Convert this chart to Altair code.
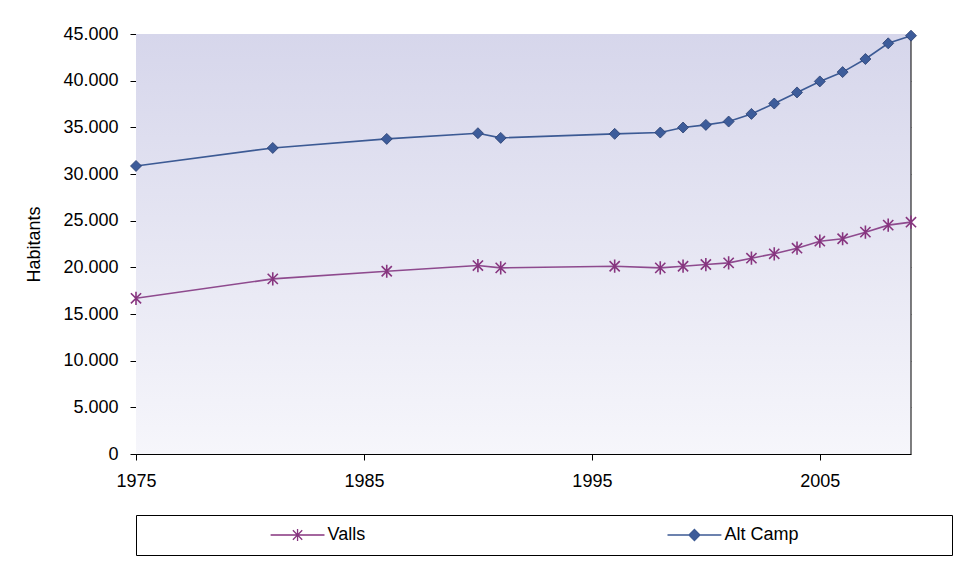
import altair as alt
import pandas as pd

# ---- data ----
years = [1975, 1981, 1986, 1990, 1991, 1996, 1998, 1999, 2000, 2001, 2002,
         2003, 2004, 2005, 2006, 2007, 2008, 2009]
alt_camp = [30860, 32790, 33760, 34370, 33870, 34300, 34440, 34980, 35260,
            35620, 36440, 37550, 38740, 39920, 40920, 42320, 44000, 44820]
valls = [16680, 18760, 19580, 20190, 19940, 20120, 19940, 20120, 20300,
         20480, 20980, 21450, 22050, 22800, 23060, 23770, 24520, 24840]
series_names = ["Valls", "Alt Camp"]
x_ticks = [1975, 1985, 1995, 2005]
y_ticks = [0, 5000, 10000, 15000, 20000, 25000, 30000, 35000, 40000, 45000]
x_domain = [1975, 2009]
y_domain = [0, 45000]

PURPLE = "#8E4A8E"
PURPLE_MK = "#87357F"
BLUE = "#3C5A94"
BLUE_MK = "#3D5C9A"
FONT = "Liberation Sans"

rows = []
for yr, v in zip(years, valls):
    rows.append({"year": yr, "value": v, "series": "Valls"})
for yr, v in zip(years, alt_camp):
    rows.append({"year": yr, "value": v, "series": "Alt Camp"})
df = pd.DataFrame(rows)

bg_df = pd.DataFrame([{"year": x_domain[0], "year2": x_domain[1],
                       "value": y_domain[0], "value2": y_domain[1]}])
edge_df = pd.DataFrame([{"year": x_domain[1], "value": y_domain[0],
                         "value2": y_domain[1]}])

xscale = alt.Scale(domain=x_domain, nice=False, zero=False)
yscale = alt.Scale(domain=y_domain, nice=False)

x_axis = alt.Axis(values=x_ticks, format="d", title=None, grid=False,
                  domainColor="#000", tickColor="#000", tickSize=6,
                  labelPadding=12, labelFontSize=18, labelFont=FONT,
                  labelColor="#000", labelFlush=False)
y_axis = alt.Axis(values=y_ticks, title="Habitants", grid=True,
                  gridColor="#8c8c8c", gridWidth=1,
                  domainColor="#000", tickColor="#000", tickSize=6,
                  labelPadding=12, labelFontSize=18, labelFont=FONT,
                  labelColor="#000",
                  labelExpr="replace(format(datum.value, ',d'), ',', '.')",
                  titleFont=FONT, titleFontSize=18, titleFontWeight="normal",
                  titleColor="#000", titlePadding=19)

X = alt.X("year:Q", scale=xscale, axis=x_axis)
Y = alt.Y("value:Q", scale=yscale, axis=y_axis)

gradient = alt.Gradient(
    gradient="linear", x1=0, y1=0, x2=0, y2=1,
    stops=[alt.GradientStop(offset=0, color="#d6d6eb"),
           alt.GradientStop(offset=1, color="#f6f6fb")])

background = alt.Chart(bg_df).mark_rect(color=gradient).encode(
    x=X, x2="year2:Q", y=Y, y2="value2:Q")

right_edge = alt.Chart(edge_df).mark_rule(color="#000", strokeWidth=1).encode(
    x=X, y=Y, y2="value2:Q")

lines = alt.Chart(df).mark_line(strokeWidth=1.6).encode(
    x=X, y=Y,
    color=alt.Color("series:N",
                    scale=alt.Scale(domain=series_names, range=[PURPLE, BLUE]),
                    legend=None),
    detail="series:N")

ASTERISK = "M-0.85,-0.85L0.85,0.85M-0.85,0.85L0.85,-0.85M0,-1.1L0,1.1"

valls_pts = alt.Chart(df).transform_filter(
    alt.datum.series == "Valls").mark_point(
    shape=ASTERISK, filled=False, size=144, stroke=PURPLE_MK,
    strokeWidth=1.6, opacity=1).encode(x=X, y=Y)

ac_pts = alt.Chart(df).transform_filter(
    alt.datum.series == "Alt Camp").mark_point(
    shape="diamond", filled=True, size=121, fill=BLUE_MK, stroke="#2a3f70",
    strokeWidth=0.8, opacity=1).encode(x=X, y=Y)

main = alt.layer(background, lines, right_edge, valls_pts, ac_pts).properties(
    width=775, height=420)

# ---- legend (boxed, below the plot) ----
leg_df = pd.DataFrame({"series": series_names})
LX = alt.X("series:N",
           scale=alt.Scale(type="point", domain=series_names, padding=0.528),
           axis=None)
LY = alt.Y("ly:Q", scale=alt.Scale(domain=[0, 1]), axis=None)

VALLS_LEG = ("M-4.9,0L4.9,0M-0.85,-0.85L0.85,0.85M-0.85,0.85L0.85,-0.85"
             "M0,-1.1L0,1.1")
AC_LEG = "M-4.9,0L-1,0M1,0L4.9,0M0,-1L1,0L0,1L-1,0Z"

leg_base = alt.Chart(leg_df).transform_calculate(ly="0.5")

leg_valls = leg_base.transform_filter(alt.datum.series == "Valls").mark_point(
    shape=VALLS_LEG, filled=False, size=121, stroke=PURPLE_MK, strokeWidth=1.3,
    opacity=1, xOffset=-48).encode(x=LX, y=LY)
leg_ac = leg_base.transform_filter(alt.datum.series == "Alt Camp").mark_point(
    shape=AC_LEG, filled=True, size=121, fill=BLUE_MK, stroke=BLUE,
    strokeWidth=1.3, opacity=1, xOffset=-48).encode(x=LX, y=LY)
leg_text = leg_base.mark_text(align="left", baseline="middle", fontSize=18,
                              font=FONT, color="#000", dx=-18).encode(
    x=LX, y=LY, text="series:N")

legend = alt.layer(leg_valls, leg_ac, leg_text).properties(
    width=816, height=40,
    view=alt.ViewBackground(stroke="#000", strokeWidth=1, fill="white"))

chart = alt.vconcat(main, legend, spacing=23).properties(
    padding={"left": 17, "top": 16, "right": 0, "bottom": 0},
    background="white"
).configure_view(stroke="transparent").configure_text(font=FONT)

chart.save("out.html", embed_options={"renderer": "svg", "actions": False})
